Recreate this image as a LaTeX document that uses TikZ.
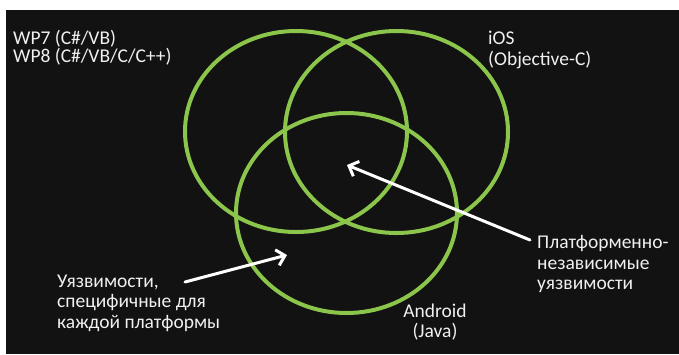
\documentclass[tikz,border=0pt]{standalone}
\usepackage{fontspec}
\setmainfont{Carlito}
\usetikzlibrary{arrows.meta}
\definecolor{slide}{RGB}{18,18,18}
\definecolor{ringgreen}{RGB}{139,197,75}
\definecolor{captext}{RGB}{240,240,240}

\begin{document}
\begin{tikzpicture}[
    x=1pt, y=-1pt,
    font=\fontsize{19.5}{20.5}\selectfont,
    >={Straight Barb[length=8pt,width=16pt]},
    ring/.style={draw=ringgreen, line width=4pt},
    captxt/.style={text=captext, inner sep=0pt, align=left},
    pointer/.style={->, draw=white, line width=3pt, line cap=round}
]
    \useasboundingbox (0,0) rectangle (679,354);
    \fill[white] (0,0) rectangle (679,354);
    \fill[slide] (6,10) rectangle (679,354);

    % platform rings
    \draw[ring] (296,131.5) ellipse [x radius=111, y radius=100.5];
    \draw[ring] (396.5,132) ellipse [x radius=111.5, y radius=101];
    \draw[ring] (346.5,213) ellipse [x radius=110.5, y radius=100];

    \node[captxt, anchor=west, font=\fontsize{19.5}{18}\selectfont] (wp) at (13,48) {WP7 (C\#/VB)\\WP8 (C\#/VB/C/C++)};
    \node[captxt, anchor=west] (ios) at (488,50) {iOS\\(Objective-C)};
    \node[captxt, align=center] (android) at (435,322) {Android\\(Java)};
    \node[captxt, anchor=west] (specific) at (57,303) {Уязвимости,\\специфичные для\\каждой платформы};
    \node[captxt, anchor=west] (indep) at (537,264) {Платформенно-\\независимые\\уязвимости};

    \coordinate (coreTip) at (347,165);
    \coordinate (coreTail) at (530,240);
    \coordinate (ownTip) at (287,255);
    \coordinate (ownTail) at (185,282);
    \draw[pointer] (coreTail) -- (coreTip);
    \draw[pointer] (ownTail) -- (ownTip);
\end{tikzpicture}
\end{document}
